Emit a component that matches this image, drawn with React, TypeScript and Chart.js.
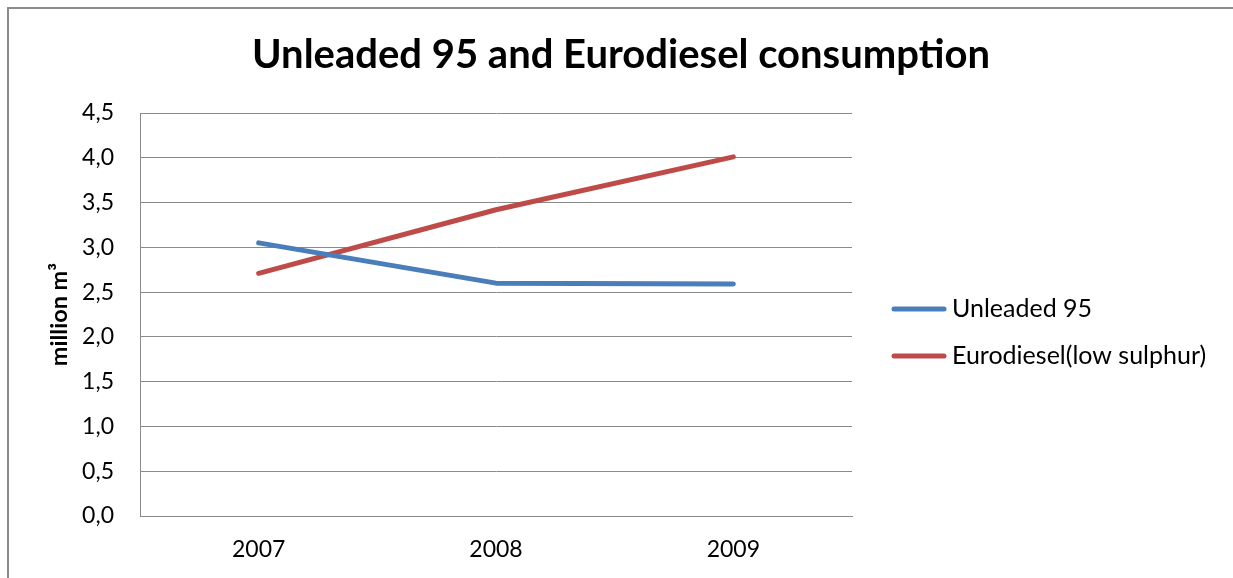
import React, { useEffect, useRef } from "react";
import { Chart, registerables } from "chart.js";

Chart.register(...registerables);

// Fuel consumption by year (million m³)
const years = ["2007", "2008", "2009"];
const unleaded95 = [3.05, 2.6, 2.59];
const eurodiesel = [2.71, 3.42, 4.01];
const yTickLabels = ["0,0", "0,5", "1,0", "1,5", "2,0", "2,5", "3,0", "3,5", "4,0", "4,5"];

const seriesNames = ["Unleaded 95", "Eurodiesel(low sulphur)"];
const seriesColors = ["#4A7EBB", "#BE4B48"];

const FONT = "Lato, 'Open Sans', sans-serif";
const W = 1233;
const H = 578;

// Legend drawn beside the plot, in the space reserved by the right-hand spacer axis
const sideLegend = {
  id: "sideLegend",
  afterDraw(chart: any) {
    const { ctx, chartArea } = chart;
    const x0 = chartArea.right + 42;
    ctx.save();
    chart.data.datasets.forEach((ds: any, i: number) => {
      const y = chartArea.top + 196 + i * 47;
      ctx.beginPath();
      ctx.lineCap = "round";
      ctx.lineWidth = 5;
      ctx.strokeStyle = ds.borderColor;
      ctx.moveTo(x0, y);
      ctx.lineTo(x0 + 50, y);
      ctx.stroke();
      ctx.font = `25px ${FONT}`;
      ctx.fillStyle = "#000";
      ctx.textBaseline = "middle";
      ctx.textAlign = "left";
      ctx.fillText(ds.label, x0 + 58, y);
    });
    ctx.restore();
  },
};

export default function App() {
  const canvasRef = useRef<HTMLCanvasElement | null>(null);

  useEffect(() => {
    if (!canvasRef.current) return;
    const gridColor = "#8a8a8a";
    const chart = new Chart(canvasRef.current, {
      type: "line",
      data: {
        labels: years,
        datasets: [
          {
            label: seriesNames[0],
            data: unleaded95,
            borderColor: seriesColors[0],
            backgroundColor: seriesColors[0],
            borderWidth: 5,
            borderCapStyle: "round",
            borderJoinStyle: "round",
            pointRadius: 0,
            tension: 0,
          },
          {
            label: seriesNames[1],
            data: eurodiesel,
            borderColor: seriesColors[1],
            backgroundColor: seriesColors[1],
            borderWidth: 5,
            borderCapStyle: "round",
            borderJoinStyle: "round",
            pointRadius: 0,
            tension: 0,
          },
        ],
      },
      options: {
        responsive: false,
        animation: false,
        events: [],
        layout: { padding: { left: 9, top: 0, right: 0, bottom: 0 } },
        plugins: {
          legend: { display: false },
          tooltip: { enabled: false },
          title: {
            display: true,
            text: "Unleaded 95 and Eurodiesel consumption",
            color: "#000",
            font: { family: FONT, size: 40, weight: "bold" },
            padding: { top: 31, bottom: 34 },
          },
        },
        scales: {
          x: {
            type: "category",
            offset: true,
            grid: { display: false, drawTicks: false },
            border: { display: true, color: gridColor, width: 1 },
            ticks: {
              color: "#000",
              font: { family: FONT, size: 23 },
              padding: 20,
              maxRotation: 0,
            },
            afterFit: (s: any) => {
              s.height = 62;
            },
          },
          y: {
            type: "linear",
            min: 0,
            max: 4.5,
            grid: { color: gridColor, lineWidth: 1, drawTicks: false },
            border: { display: true, color: gridColor, width: 1 },
            ticks: {
              stepSize: 0.5,
              color: "#000",
              font: { family: FONT, size: 23 },
              padding: 26,
              callback: (_v: any, i: number) => yTickLabels[i],
            },
            title: {
              display: true,
              text: "million m³",
              color: "#000",
              font: { family: FONT, size: 23.5, weight: "bold" },
              padding: { top: 36, bottom: 0 },
            },
            afterFit: (s: any) => {
              s.width = 131;
            },
          },
          spacer: {
            type: "linear",
            position: "right",
            display: true,
            grid: { display: false, drawTicks: false },
            border: { display: false },
            ticks: { display: false },
            afterFit: (s: any) => {
              s.width = 381;
            },
          },
        },
      },
      plugins: [sideLegend],
    } as any);
    return () => chart.destroy();
  }, []);

  return (
    <div
      style={{
        position: "absolute",
        left: 0,
        top: 0,
        width: W,
        height: H,
        overflow: "hidden",
        background: "#fff",
      }}
    >
      <div
        style={{
          position: "absolute",
          left: 7,
          top: 7,
          width: W + 20,
          height: H + 20,
          borderLeft: "2px solid #8c8c8c",
          borderTop: "2px solid #8c8c8c",
          boxSizing: "border-box",
        }}
      />
      <canvas
        ref={canvasRef}
        width={W}
        height={H}
        style={{ position: "absolute", left: 0, top: 0 }}
      />
    </div>
  );
}
